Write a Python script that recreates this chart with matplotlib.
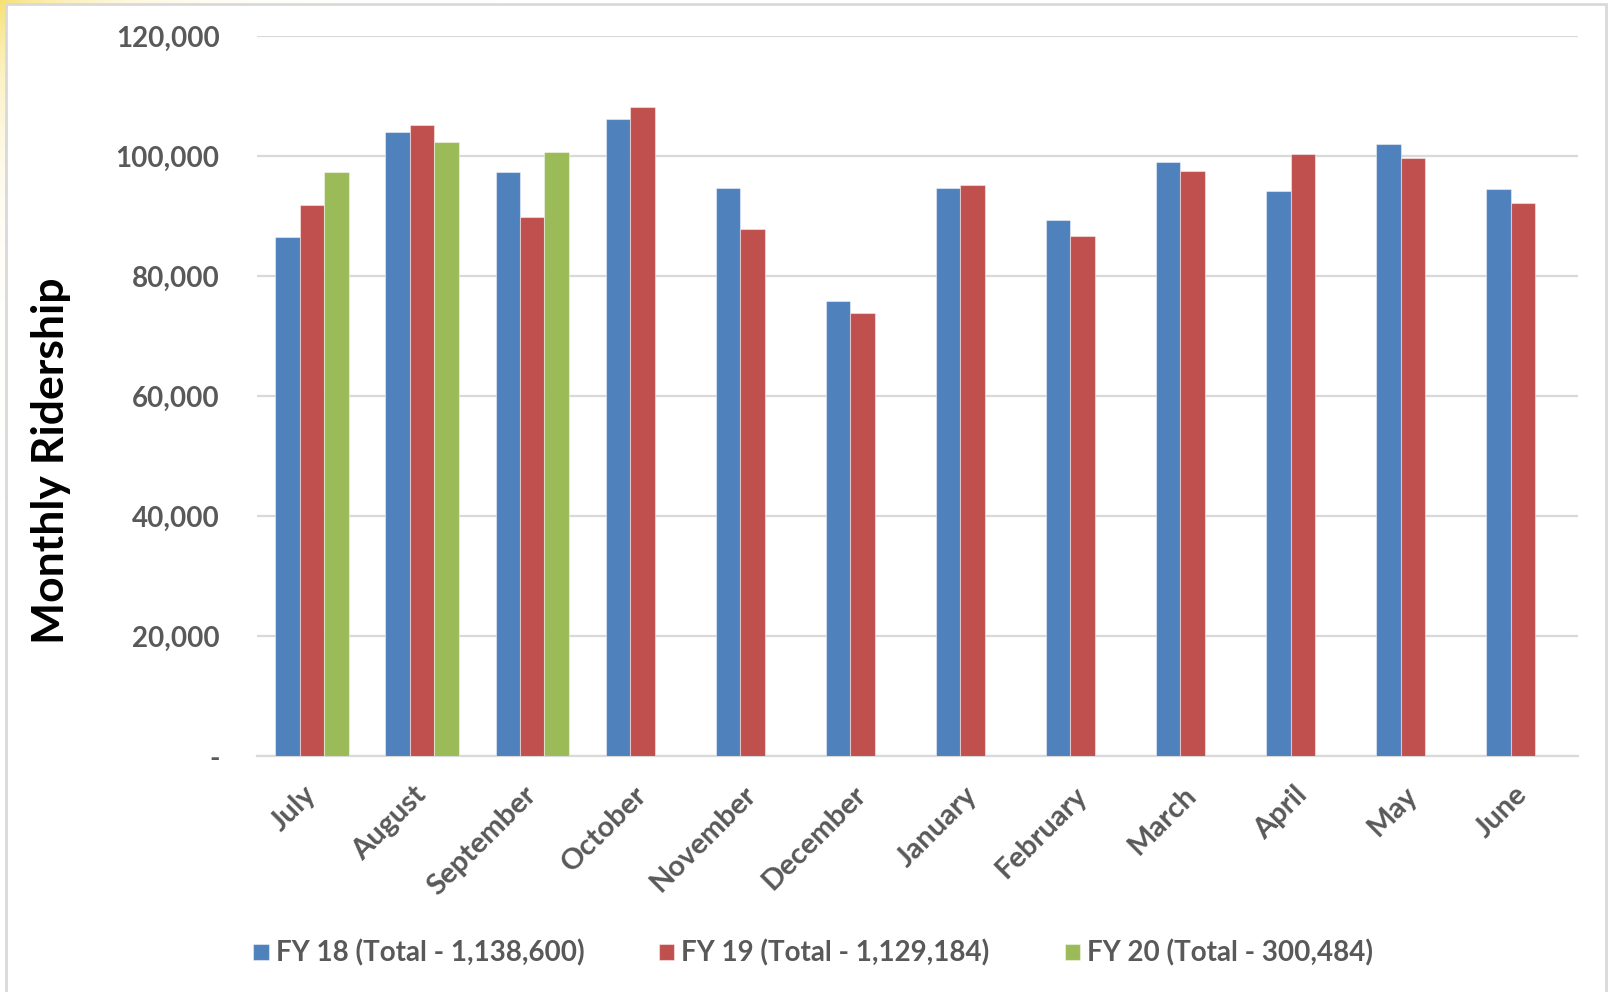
import numpy as np
import matplotlib.pyplot as plt
from matplotlib.ticker import FuncFormatter
from matplotlib.patches import Rectangle

months = ['July', 'August', 'September', 'October', 'November', 'December',
          'January', 'February', 'March', 'April', 'May', 'June']
fy18 = [86500, 104000, 97400, 106200, 94600, 75900,
        94600, 89400, 99000, 94100, 102000, 94500]
fy19 = [91800, 105100, 89900, 108200, 87800, 73900,
        95200, 86700, 97500, 100300, 99700, 92200]
fy20 = [97300, 102400, 100700]
labels = ['FY 18 (Total - 1,138,600)', 'FY 19 (Total - 1,129,184)',
          'FY 20 (Total - 300,484)']
colors = ['#4F81BD', '#C0504D', '#9BBB59']

plt.rcParams['font.family'] = ['Lato', 'DejaVu Sans']
grey = '#595959'

W, H = 1610, 992
fig = plt.figure(figsize=(W / 100, H / 100), dpi=100)

# faint yellow glow at the top-left corner, outside the chart frame
bg = fig.add_axes([0, 0, 1, 1], zorder=-10)
yy, xx = np.mgrid[0:H, 0:W]
glow = np.zeros((H, W, 4))
glow[..., :3] = (0.97, 0.88, 0.45)
alpha = np.exp(-np.hypot(xx, yy) / 90.0)
alpha[(xx >= 6) & (yy >= 4)] = 0
glow[..., 3] = alpha
bg.imshow(glow, extent=(0, W, H, 0), aspect='auto')
bg.set_xlim(0, W)
bg.set_ylim(H, 0)
bg.axis('off')
bg.add_patch(Rectangle((6, 4), W - 10, H, fill=False,
                       edgecolor='#D9D9D9', linewidth=2))

ax = fig.add_axes([257 / W, 1 - 756 / H, (1578 - 257) / W, 720 / H])
x = np.arange(len(months))
width = 0.222
series = [fy18, fy19, fy20]
for k, (vals, c, lab) in enumerate(zip(series, colors, labels)):
    pos = x[:len(vals)] + (k - 1) * width
    ax.bar(pos, vals, width=width, color=c, label=lab,
           edgecolor=(1, 1, 1, 0.45), linewidth=0.8, zorder=3)

ax.set_xlim(-0.5, len(months) - 0.5)
ax.set_ylim(0, 120000)
ax.set_yticks(np.arange(0, 120001, 20000))
ax.yaxis.set_major_formatter(
    FuncFormatter(lambda v, p: '-' if v == 0 else f'{int(v):,}'))
ax.grid(axis='y', color='#D9D9D9', linewidth=1.6, zorder=0)
for s in ['top', 'right', 'left']:
    ax.spines[s].set_visible(False)
ax.spines['bottom'].set_color('#D9D9D9')
ax.spines['bottom'].set_linewidth(1.6)
ax.tick_params(axis='both', length=0, labelsize=20, colors=grey)
ax.tick_params(axis='y', pad=27)
for t in ax.get_yticklabels():
    t.set_fontweight('bold')

ax.set_xticks(x)
ax.set_xticklabels(months, rotation=45, ha='right', va='center',
                   rotation_mode='anchor', fontweight='bold', fontsize=21)
ax.tick_params(axis='x', pad=25)

fig.text(51 / W, 0.536, 'Monthly Ridership', rotation=90, ha='center',
         va='center', fontsize=32, fontweight='bold', color='black')

leg = fig.legend(loc='center', bbox_to_anchor=(0.505, 0.039), ncol=3,
                 frameon=False, fontsize=20, handlelength=0.55,
                 handleheight=0.55, handletextpad=0.25, columnspacing=2.7)
for t in leg.get_texts():
    t.set_fontweight('bold')
    t.set_color(grey)

fig.savefig('out.png', dpi=100)
